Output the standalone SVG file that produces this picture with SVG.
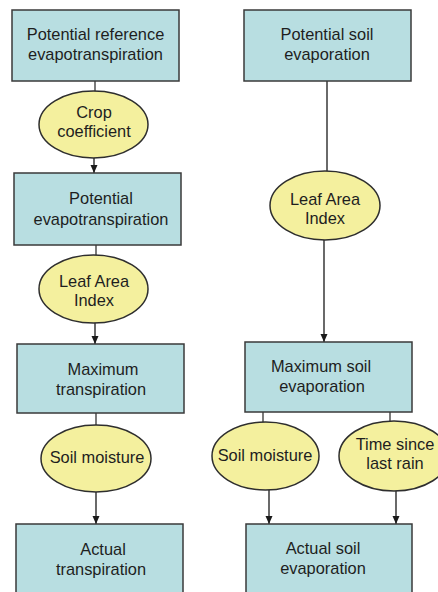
<svg xmlns="http://www.w3.org/2000/svg" width="438" height="592" viewBox="0 0 438 592">
  <defs>
    <marker id="arrow" viewBox="0 0 8 8" refX="8" refY="4" markerWidth="8" markerHeight="8" markerUnits="userSpaceOnUse" orient="auto">
      <path d="M0,0.5 L8,4 L0,7.5 Z" fill="#1a1a1a"/>
    </marker>
  </defs>
  <style>
    .box { fill: #b8dee1; stroke: #3a3a3a; stroke-width: 1.5; }
    .oval { fill: #f4f09e; stroke: #2e2e2e; stroke-width: 1.5; }
    text { font-family: "Liberation Sans", Arial, sans-serif; font-size: 16.4px; fill: #1e1e1e; text-anchor: middle; }
    .link { stroke: #333; stroke-width: 1.3; fill: none; }
    .link-gray { stroke: #6a6a6a; stroke-width: 2; fill: none; }
    .arrow { stroke: #1a1a1a; stroke-width: 1.3; fill: none; marker-end: url(#arrow); }
  </style>
  <rect width="438" height="592" fill="#ffffff"/>

  <g id="connectors">
    <!-- left column -->
    <line class="link" x1="95" y1="81" x2="95" y2="91"/>
    <line class="arrow" x1="94" y1="158" x2="94" y2="173"/>
    <line class="link" x1="96" y1="245" x2="96" y2="255"/>
    <line class="arrow" x1="95" y1="323" x2="95" y2="344"/>
    <line class="link" x1="96" y1="413" x2="96" y2="425"/>
    <line class="arrow" x1="96" y1="492" x2="96" y2="524"/>
    <!-- right column -->
    <line class="link-gray" x1="327" y1="81" x2="327" y2="171"/>
    <line class="arrow" x1="324" y1="240" x2="324" y2="342"/>
    <line class="link" x1="263" y1="412" x2="263" y2="423"/>
    <line class="link" x1="390" y1="412" x2="390" y2="422"/>
    <line class="arrow" x1="269" y1="490" x2="269" y2="524"/>
    <line class="arrow" x1="396" y1="491" x2="396" y2="524"/>
  </g>

  <g id="potential-reference-et">
    <rect class="box" x="12" y="10" width="167" height="71"/>
    <text x="95.5" y="40">Potential reference</text>
    <text x="95.5" y="60">evapotranspiration</text>
  </g>
  <g id="crop-coefficient">
    <ellipse class="oval" cx="93.5" cy="124.5" rx="54.5" ry="33.5"/>
    <text x="94" y="118">Crop</text>
    <text x="94" y="137">coefficient</text>
  </g>
  <g id="potential-et">
    <rect class="box" x="14" y="173" width="167" height="72"/>
    <text x="101" y="204">Potential</text>
    <text x="101" y="225">evapotranspiration</text>
  </g>
  <g id="lai-left">
    <ellipse class="oval" cx="93.5" cy="289" rx="54.5" ry="34"/>
    <text x="94" y="287">Leaf Area</text>
    <text x="94" y="306">Index</text>
  </g>
  <g id="maximum-transpiration">
    <rect class="box" x="17" y="344" width="167" height="69"/>
    <text x="103" y="375">Maximum</text>
    <text x="101" y="395">transpiration</text>
  </g>
  <g id="soil-moisture-left">
    <ellipse class="oval" cx="96" cy="458.5" rx="55" ry="33.5"/>
    <text x="97" y="463">Soil moisture</text>
  </g>
  <g id="actual-transpiration">
    <rect class="box" x="16" y="524" width="167" height="80"/>
    <text x="103" y="555">Actual</text>
    <text x="101" y="575">transpiration</text>
  </g>

  <g id="potential-soil-evaporation">
    <rect class="box" x="244" y="10" width="167" height="71"/>
    <text x="327" y="40">Potential soil</text>
    <text x="327" y="60">evaporation</text>
  </g>
  <g id="lai-right">
    <ellipse class="oval" cx="325" cy="205.5" rx="55" ry="34.5"/>
    <text x="325" y="205">Leaf Area</text>
    <text x="325" y="224">Index</text>
  </g>
  <g id="maximum-soil-evaporation">
    <rect class="box" x="245" y="342" width="167" height="70"/>
    <text x="321" y="372">Maximum soil</text>
    <text x="322" y="392">evaporation</text>
  </g>
  <g id="soil-moisture-right">
    <ellipse class="oval" cx="265.5" cy="456" rx="53.5" ry="34"/>
    <text x="265" y="461">Soil moisture</text>
  </g>
  <g id="time-since-last-rain">
    <ellipse class="oval" cx="394" cy="456" rx="55" ry="35"/>
    <text x="395" y="450">Time since</text>
    <text x="395" y="469">last rain</text>
  </g>
  <g id="actual-soil-evaporation">
    <rect class="box" x="246" y="524" width="166" height="80"/>
    <text x="323" y="554">Actual soil</text>
    <text x="323" y="574">evaporation</text>
  </g>
</svg>
